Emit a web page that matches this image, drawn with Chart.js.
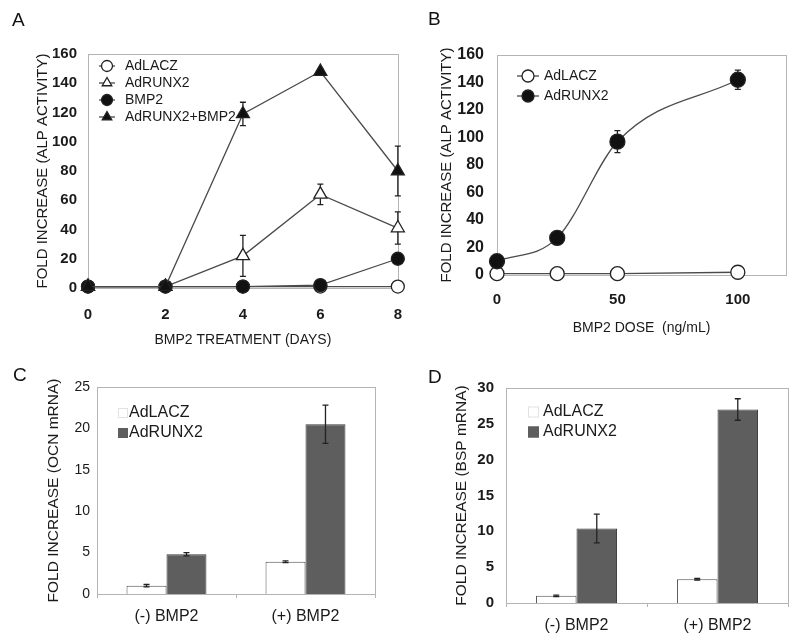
<!DOCTYPE html>
<html>
<head>
<meta charset="utf-8">
<script src="https://cdn.jsdelivr.net/npm/chart.js@4.4.1/dist/chart.umd.min.js"></script>
<style>
body { margin: 0; background: #fff; }
#wrap { position: relative; width: 800px; height: 642px; overflow: hidden; font-family: "Liberation Sans", Arial, sans-serif; }
canvas { position: absolute; }
.tag { position: absolute; font-size: 19px; line-height: 19px; color: #111; z-index: 2; }
</style>
</head>
<body>
<div id="wrap">
  <canvas id="chartA" width="420" height="360" style="left:0;top:0"></canvas>
  <canvas id="chartB" width="380" height="360" style="left:420px;top:0"></canvas>
  <canvas id="chartC" width="400" height="282" style="left:0;top:360px"></canvas>
  <canvas id="chartD" width="400" height="282" style="left:400px;top:360px"></canvas>
  <div class="tag" style="left:12px;top:10px">A</div>
  <div class="tag" style="left:428px;top:9px">B</div>
  <div class="tag" style="left:13px;top:365px">C</div>
  <div class="tag" style="left:428px;top:367px">D</div>
</div>
<script>
// panel A - ALP time course
const daysA = [0, 2, 4, 6, 8];
const laczA = [1, 1, 1, 1, 1];
const runx2A = [1, 1, 22, 64, 41];
const runx2AErr = [0, 0, 14, 7, 11];
const bmp2A = [1, 1, 1, 2, 20];
const bmp2AErr = [0, 0, 0, 0, 3];
const comboA = [1, 1, 119, 148, 80];
const comboAErr = [0, 0, 8, 2, 17];
const xTicksA = [0, 2, 4, 6, 8];
const yTicksAB = [0, 20, 40, 60, 80, 100, 120, 140, 160];

// panel B - BMP2 dose
const doseB = [0, 25, 50, 100];
const laczB = [1, 1, 1, 2];
const runx2B = [10, 27, 97, 142];
const runx2BErr = [0, 0, 8, 7];
const xTicksB = [0, 50, 100];

// panels C, D - mRNA
const groups = ['(-) BMP2', '(+) BMP2'];
const ocnLacz = [1.0, 3.9];
const ocnLaczErr = [0.15, 0.1];
const ocnRunx2 = [4.8, 20.5];
const ocnRunx2Err = [0.2, 2.3];
const bspLacz = [1.0, 3.3];
const bspLaczErr = [0.1, 0.12];
const bspRunx2 = [10.4, 27.0];
const bspRunx2Err = [2.0, 1.5];
const yTicksC = [0, 5, 10, 15, 20, 25];
const yTicksD = [0, 5, 10, 15, 20, 25, 30];

const FONT = '"Liberation Sans", Arial, sans-serif';
const INK = '#1a1a1a';

function pts(xs, ys) { return xs.map((x, i) => ({ x: x, y: ys[i] })); }
function fixTicks(list) { return function (scale) { scale.ticks = list.map(v => ({ value: v })); }; }
function fixSize(w, h) {
  return function (scale) {
    if (w != null) scale.width = w;
    if (h != null) scale.height = h;
  };
}

function drawErr(chart) {
  const ctx = chart.ctx, ys = chart.scales.y;
  chart.data.datasets.forEach((ds, i) => {
    if (!ds.err) return;
    const meta = chart.getDatasetMeta(i);
    meta.data.forEach((el, j) => {
      const e = ds.err[j];
      if (!e) return;
      const raw = ds.data[j];
      const v = typeof raw === 'object' ? raw.y : raw;
      const t = ys.getPixelForValue(v + e), b = ys.getPixelForValue(v - e);
      ctx.save();
      ctx.strokeStyle = '#222';
      ctx.lineWidth = 1.3;
      ctx.beginPath();
      ctx.moveTo(el.x, t); ctx.lineTo(el.x, b);
      ctx.moveTo(el.x - 3, t); ctx.lineTo(el.x + 3, t);
      ctx.moveTo(el.x - 3, b); ctx.lineTo(el.x + 3, b);
      ctx.stroke();
      ctx.restore();
    });
  });
}

const errorBars = {
  id: 'errorBars',
  beforeDatasetsDraw(chart) { if (chart.config.type === 'line') drawErr(chart); },
  afterDatasetsDraw(chart) { if (chart.config.type === 'bar') drawErr(chart); }
};

const frame = {
  id: 'frame',
  beforeDatasetsDraw(chart) {
    const a = chart.chartArea, ctx = chart.ctx;
    ctx.save();
    ctx.strokeStyle = '#b4b4b4';
    ctx.lineWidth = 1;
    ctx.strokeRect(Math.round(a.left) + 0.5, Math.round(a.top) + 0.5,
      Math.round(a.right - a.left), Math.round(a.bottom - a.top));
    ctx.restore();
  }
};

const insideLegend = {
  id: 'insideLegend',
  afterDraw(chart, args, o) {
    const ctx = chart.ctx, a = chart.chartArea;
    ctx.save();
    ctx.font = o.font;
    ctx.textBaseline = 'middle';
    ctx.fillStyle = INK;
    chart.data.datasets.forEach((ds, i) => {
      const y = a.top + o.y + i * o.step;
      const mx = a.left + o.x;
      if (o.kind === 'line') {
        ctx.strokeStyle = ds.borderColor;
        ctx.lineWidth = 1.3;
        ctx.beginPath();
        ctx.moveTo(mx - o.half, y); ctx.lineTo(mx + o.half, y);
        ctx.stroke();
        ctx.fillStyle = ds.pointBackgroundColor;
        ctx.strokeStyle = ds.pointBorderColor;
        ctx.lineWidth = 1.3;
        Chart.helpers.drawPoint(ctx, { pointStyle: ds.pointStyle, radius: o.r, rotation: 0, borderWidth: 1.3 }, mx, y);
      } else {
        ctx.fillStyle = ds.backgroundColor;
        ctx.fillRect(mx, y - o.w / 2, o.w, o.w);
        ctx.strokeStyle = ds.backgroundColor === '#ffffff' ? '#e2e2e2' : ds.backgroundColor;
        ctx.lineWidth = 1;
        ctx.strokeRect(mx + 0.5, y - o.w / 2 + 0.5, o.w - 1, o.w - 1);
      }
      ctx.fillStyle = INK;
      ctx.fillText(ds.label, a.left + o.tx, y);
    });
    ctx.restore();
  }
};

function lineSet(label, data, err, style, filled, r, order) {
  return {
    label: label,
    data: data,
    err: err,
    order: order,
    clip: false,
    borderColor: '#4a4a4a',
    borderWidth: 1.3,
    pointStyle: style,
    pointRadius: r,
    pointBackgroundColor: filled ? '#111111' : '#ffffff',
    pointBorderColor: '#222222',
    pointBorderWidth: 1.3,
    fill: false
  };
}

// ---- A ----
new Chart(document.getElementById('chartA'), {
  type: 'line',
  data: {
    datasets: [
      lineSet('AdLACZ', pts(daysA, laczA), null, 'circle', false, 6.5, 4),
      lineSet('AdRUNX2', pts(daysA, runx2A), runx2AErr, 'triangle', false, 7.5, 3),
      lineSet('BMP2', pts(daysA, bmp2A), bmp2AErr, 'circle', true, 6.5, 2),
      lineSet('AdRUNX2+BMP2', pts(daysA, comboA), comboAErr, 'triangle', true, 7.5, 1)
    ]
  },
  options: {
    responsive: false,
    animation: false,
    devicePixelRatio: 1,
    layout: { padding: { top: 54, right: 17, left: 0, bottom: 0 } },
    scales: {
      x: {
        type: 'linear', min: 0, max: 8,
        afterBuildTicks: fixTicks(xTicksA),
        afterFit: fixSize(null, 72),
        grid: { display: false, drawTicks: false },
        border: { display: false },
        ticks: { padding: 18, color: INK, font: { family: FONT, size: 15, weight: 'bold' } },
        title: { display: true, text: 'BMP2 TREATMENT (DAYS)', color: INK, padding: { top: 0, bottom: 11 }, font: { family: FONT, size: 14 } }
      },
      y: {
        min: 0, max: 160,
        afterBuildTicks: fixTicks(yTicksAB),
        afterFit: fixSize(88, null),
        grid: { display: false, drawTicks: false },
        border: { display: false },
        ticks: { padding: 11, color: INK, font: { family: FONT, size: 15, weight: 'bold' } },
        title: { display: true, text: 'FOLD INCREASE (ALP ACTIVITY)', color: INK, padding: { top: 34, bottom: 0 }, font: { family: FONT, size: 15 } }
      }
    },
    plugins: {
      legend: { display: false },
      tooltip: { enabled: false },
      insideLegend: { kind: 'line', x: 19, tx: 37, y: 12, step: 17, half: 8, r: 5.5, font: '14px ' + FONT }
    }
  },
  plugins: [frame, errorBars, insideLegend]
});

// ---- B ----
new Chart(document.getElementById('chartB'), {
  type: 'line',
  data: {
    datasets: [
      lineSet('AdLACZ', pts(doseB, laczB), null, 'circle', false, 7, 2),
      Object.assign(lineSet('AdRUNX2', pts(doseB, runx2B), runx2BErr, 'circle', true, 7.5, 1), { cubicInterpolationMode: 'monotone' })
    ]
  },
  options: {
    responsive: false,
    animation: false,
    devicePixelRatio: 1,
    layout: { padding: { top: 55, right: 14, left: 0, bottom: 0 } },
    scales: {
      x: {
        type: 'linear', min: 0, max: 120,
        afterBuildTicks: fixTicks(xTicksB),
        afterFit: fixSize(null, 85),
        grid: { display: false, drawTicks: false },
        border: { display: false },
        ticks: { padding: 16, color: INK, font: { family: FONT, size: 15, weight: 'bold' } },
        title: { display: true, text: 'BMP2 DOSE  (ng/mL)', color: INK, padding: { top: 0, bottom: 23 }, font: { family: FONT, size: 14 } }
      },
      y: {
        min: 0, max: 160,
        afterBuildTicks: fixTicks(yTicksAB),
        afterFit: fixSize(77, null),
        grid: { display: false, drawTicks: false },
        border: { display: false },
        ticks: { padding: 13, color: INK, font: { family: FONT, size: 16, weight: 'bold' } },
        title: { display: true, text: 'FOLD INCREASE (ALP ACTIVITY)', color: INK, padding: { top: 18, bottom: 0 }, font: { family: FONT, size: 15 } }
      }
    },
    plugins: {
      legend: { display: false },
      tooltip: { enabled: false },
      insideLegend: { kind: 'line', x: 31, tx: 47, y: 21, step: 20, half: 11, r: 6, font: '14px ' + FONT }
    }
  },
  plugins: [frame, errorBars, insideLegend]
});

function barChart(id, title, lacz, laczErr, runx2, runx2Err, yMax, yTicks, yW, titlePad, pad, tickFont, legend) {
  new Chart(document.getElementById(id), {
    type: 'bar',
    data: {
      labels: groups,
      datasets: [
        { label: 'AdLACZ', data: lacz, err: laczErr, backgroundColor: '#ffffff', borderColor: '#505050', borderWidth: 1 },
        { label: 'AdRUNX2', data: runx2, err: runx2Err, backgroundColor: '#5e5e5e', borderColor: '#3a3a3a', borderWidth: 1 }
      ]
    },
    options: {
      responsive: false,
      animation: false,
      devicePixelRatio: 1,
      layout: { padding: pad },
      datasets: { bar: { categoryPercentage: 0.575, barPercentage: 1.0 } },
      scales: {
        x: {
          afterFit: fixSize(null, 282 - pad.top - pad.plotH),
          grid: { display: true, drawOnChartArea: false, offset: true, tickLength: 4, color: '#b4b4b4' },
          border: { display: false },
          ticks: { padding: 9, color: INK, font: { family: FONT, size: 16 } }
        },
        y: {
          min: 0, max: yMax,
          afterBuildTicks: fixTicks(yTicks),
          afterFit: fixSize(yW, null),
          grid: { display: false, drawTicks: false },
          border: { display: false },
          ticks: { padding: pad.tickPad, color: INK, font: tickFont },
          title: { display: true, text: title, color: INK, padding: { top: titlePad, bottom: 0 }, font: { family: FONT, size: 15.5 } }
        }
      },
      plugins: {
        legend: { display: false },
        tooltip: { enabled: false },
        insideLegend: legend
      }
    },
    plugins: [frame, errorBars, insideLegend]
  });
}

// ---- C ----
barChart('chartC', 'FOLD INCREASE (OCN mRNA)', ocnLacz, ocnLaczErr, ocnRunx2, ocnRunx2Err, 25, yTicksC, 97, 44,
  { top: 27, right: 25, left: 0, bottom: 0, plotH: 207, tickPad: 7 },
  { family: FONT, size: 14 },
  { kind: 'bar', x: 21, tx: 32, y: 26, step: 20, w: 10, font: '16px ' + FONT });

// ---- D ----
barChart('chartD', 'FOLD INCREASE (BSP mRNA)', bspLacz, bspLaczErr, bspRunx2, bspRunx2Err, 30, yTicksD, 106, 52,
  { top: 28, right: 12, left: 0, bottom: 0, plotH: 215, tickPad: 12 },
  { family: FONT, size: 15, weight: 'bold' },
  { kind: 'bar', x: 22, tx: 37, y: 24, step: 20, w: 11, font: '16px ' + FONT });
</script>
</body>
</html>
